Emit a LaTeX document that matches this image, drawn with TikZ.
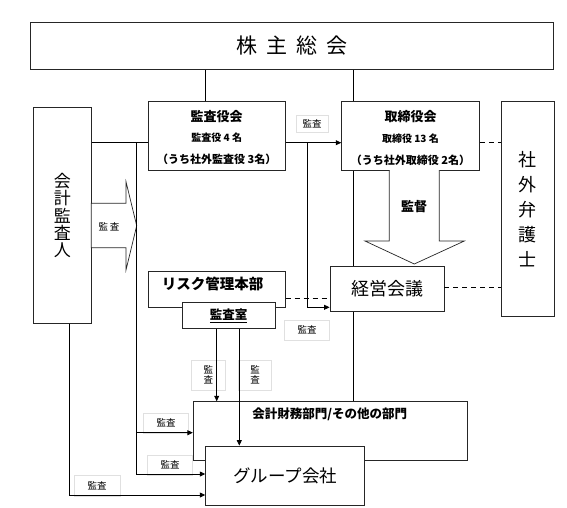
\documentclass[tikz,border=0pt]{standalone}
\usepackage{fontspec}
\setmainfont{Noto Sans CJK JP}
\usetikzlibrary{arrows.meta,backgrounds}

\tikzset{
    box/.style={draw=black!85, line width=0.9pt, fill=white, inner sep=0pt},
    tag/.style={draw=black!12, line width=0.7pt, fill=white, inner sep=0pt, font=\fontsize{9.5}{10}\selectfont},
    link/.style={line width=0.8pt},
    arr/.style={link, -{Triangle[length=5.5pt,width=5pt]}},
    dsh/.style={link, dash pattern=on 5pt off 4pt},
    bigarrow/.style={draw=black!85, line width=0.7pt, fill=white}
}

\begin{document}
\begin{tikzpicture}[x=1pt, y=-1pt]
    \useasboundingbox (0,0) rectangle (567,507);

    % General meeting
    \node[box, minimum width=522.7pt, minimum height=47pt, font=\fontsize{21}{21}\selectfont] (gm) at (292,45.8) {株\hspace{9pt}主\hspace{9pt}総\hspace{9pt}会};

    % Boards
    \node[box, minimum width=136.7pt, minimum height=68.3pt] (kansa) at (216.7,135.9) {};
    \node[font=\fontsize{13}{13}\selectfont\bfseries] (kansaT) at (216.7,116.7) {監査役会};
    \node[font=\fontsize{10}{10}\selectfont\bfseries] (kansaN) at (216.7,137.3) {監査役 4 名};
    \node[font=\fontsize{11}{11}\selectfont\bfseries] (kansaO) at (216.7,159) {（うち社外監査役 3名）};

    \node[box, minimum width=137.6pt, minimum height=68.3pt] (tori) at (410.5,135.9) {};
    \node[font=\fontsize{13}{13}\selectfont\bfseries] (toriT) at (410.5,116.7) {取締役会};
    \node[font=\fontsize{10}{10}\selectfont\bfseries] (toriN) at (410.5,138.3) {取締役 13 名};
    \node[font=\fontsize{11}{11}\selectfont\bfseries] (toriO) at (410.5,160) {（うち社外取締役 2名）};

    % Outside parties
    \node[box, minimum width=57.7pt, minimum height=215.6pt, align=center, font=\fontsize{17}{17.4}\selectfont] (kaikei) at (62.3,215.5) {会\\計\\監\\査\\人};
    \node[box, minimum width=52.3pt, minimum height=215.7pt, align=center, font=\fontsize{18}{25}\selectfont] (bengoshi) at (527.9,208.9) {社\\外\\弁\\護\\士};

    % Management
    \node[box, minimum width=114pt, minimum height=45pt, font=\fontsize{18}{18}\selectfont] (keiei) at (387,289.2) {経営会議};
    \node[box, minimum width=136.7pt, minimum height=36.5pt] (risk) at (216.7,289.2) {};
    \node[font=\fontsize{14.5}{14.5}\selectfont\bfseries] (riskT) at (212.5,284.3) {リスク管理本部};
    \node[box, minimum width=93pt, minimum height=25.6pt, font=\fontsize{12.5}{12.5}\selectfont\bfseries] (shitsu) at (228.5,315.5) {\underline{監査室}};

    % Departments and group
    \node[box, minimum width=274pt, minimum height=59pt] (zaimu) at (330.3,431.2) {};
    \node[font=\fontsize{12.5}{12.5}\selectfont\bfseries] (zaimuT) at (329.8,414) {会計財務部門/その他の部門};
    \node[box, minimum width=159pt, minimum height=59.3pt, font=\fontsize{17.5}{17.5}\selectfont] (group) at (285.2,475.7) {グループ会社};

    % Block arrows
    \draw[bigarrow] (91.2,203.3) -- (126,203.3) -- (126,181.7) -- (136.7,225.7) -- (126,270) -- (126,247.7) -- (91.2,247.7) -- cycle;
    \node[font=\fontsize{9.5}{9.5}\selectfont] (auditA) at (109,227) {監\hspace{2pt}査};
    \draw[bigarrow] (389.3,170) -- (389.3,241) -- (365,241) -- (414.3,264) -- (464.3,241) -- (439.3,241) -- (439.3,170);
    \node[font=\fontsize{13}{13}\selectfont\bfseries] (superv) at (414,207) {監督};

    % Audit tags
    \foreach \x/\y/\w/\h/\n in {312/123.5/32/17/a, 307/330/45/20/b, 166/423/45/20/e, 170/465/45/20/f, 97/486/46/21/g}
        \node[tag, minimum width=\w pt, minimum height=\h pt] (tag\n) at (\x,\y) {監査};
    \node[tag, minimum width=34pt, minimum height=30pt, align=center] (tagc) at (208.3,375) {監\\査};
    \node[tag, minimum width=33pt, minimum height=30pt, align=center] (tagd) at (255,375) {監\\査};

    % Lines from the general meeting
    \coordinate (kTop) at ([xshift=-10.9pt]kansa.north);
    \draw[link] (kTop) -- (kTop |- gm.south);
    \coordinate (tTop) at ([xshift=-56.9pt]tori.north);
    \draw[link] (tTop) -- (tTop |- gm.south);
    \begin{scope}[on background layer]
        \coordinate (tBot) at ([xshift=-56.9pt]tori.south);
        \draw[link] (tBot) -- (tBot |- zaimu.north);
    \end{scope}

    % Accounting auditor
    \coordinate (kL) at ([yshift=-6.4pt]kansa.west);
    \draw[link] (kaikei.east |- kL) -- (kL);
    \coordinate (busA) at (136.7,142.3);
    \coordinate (zL) at ([yshift=-1.5pt]zaimu.west);
    \coordinate (gL) at ([yshift=1.7pt]group.west);
    \draw[arr] (busA) |- (zL);
    \draw[arr] (busA) |- (gL);
    \coordinate (kB) at ([xshift=6.7pt]kaikei.south);
    \coordinate (gL2) at ([yshift=-19.3pt]group.west);
    \draw[arr] (kB) |- (gL2);

    % Board lines
    \coordinate (kR) at ([yshift=-6.8pt]kansa.east);
    \draw[arr] (kR) -- (kR -| tori.west);
    \coordinate (busB) at (307.7,142.7);
    \coordinate (eL) at ([yshift=-18.1pt]keiei.west);
    \draw[arr] (busB) |- (eL);
    \coordinate (tR) at ([yshift=-6.8pt]tori.east);
    \draw[dsh] (tR) -- (tR -| bengoshi.west);
    \coordinate (eR) at ([yshift=1.9pt]keiei.east);
    \draw[dsh] (eR) -- (eR -| bengoshi.west);
    \coordinate (rR) at ([yshift=-8.8pt]risk.east);
    \draw[dsh] (rR) -- (rR -| keiei.west);

    % Internal audit
    \coordinate (sA) at ([xshift=-11.8pt]shitsu.south);
    \draw[arr] (sA) -- (sA |- zaimu.north);
    \coordinate (sB) at ([xshift=10.8pt]shitsu.south);
    \draw[arr] (sB) -- (sB |- group.north);

\end{tikzpicture}
\end{document}
